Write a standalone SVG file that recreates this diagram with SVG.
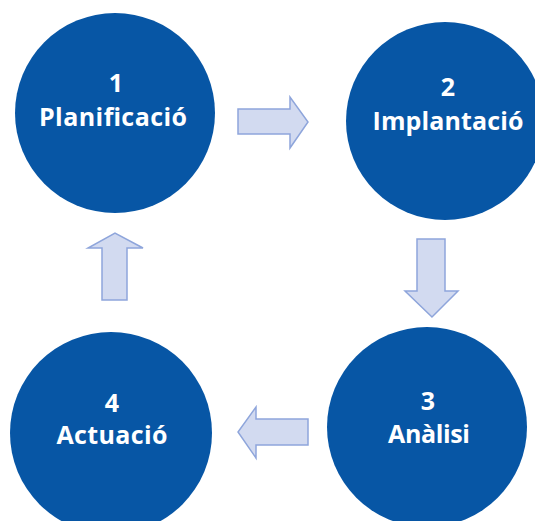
<svg xmlns="http://www.w3.org/2000/svg" width="535" height="521" viewBox="0 0 535 521">
<style>
.node circle{fill:#0756a5}
.node text{fill:#fff;font-family:"Open Sans","DejaVu Sans",sans-serif;font-weight:bold;font-size:25px;text-anchor:middle}
.arrow{fill:#d2daf0;stroke:#8ea5db;stroke-width:1.5;stroke-linejoin:miter}
</style>
<rect width="535" height="521" fill="#fff"/>
<g id="connectors">
<polygon class="arrow" points="238,109 290,109 290,97 308,122 290,148 290,134 238,134"/>
<polygon class="arrow" points="417,239 445,239 445,291 458,291 432,317 405,291 417,291"/>
<polygon class="arrow" points="308,419 256,419 256,407 238,432 256,458 256,445 308,445"/>
<polygon class="arrow" points="102,300 102,248 88,248 115,233 143,248 127,248 127,300"/>
</g>
<g id="node1" class="node">
<circle cx="115" cy="113" r="100"/>
<text x="116" y="92">1</text>
<text x="113" y="126" textLength="148" lengthAdjust="spacing">Planificació</text>
</g>
<g id="node2" class="node">
<circle cx="445" cy="121" r="99"/>
<text x="448" y="96">2</text>
<text x="448" y="130" textLength="151" lengthAdjust="spacing">Implantació</text>
</g>
<g id="node3" class="node">
<circle cx="427" cy="427" r="100"/>
<text x="428" y="410">3</text>
<text x="429" y="443" textLength="82" lengthAdjust="spacing">Anàlisi</text>
</g>
<g id="node4" class="node">
<circle cx="111" cy="433" r="101"/>
<text x="112" y="412">4</text>
<text x="112" y="444" textLength="111" lengthAdjust="spacing">Actuació</text>
</g>
</svg>
